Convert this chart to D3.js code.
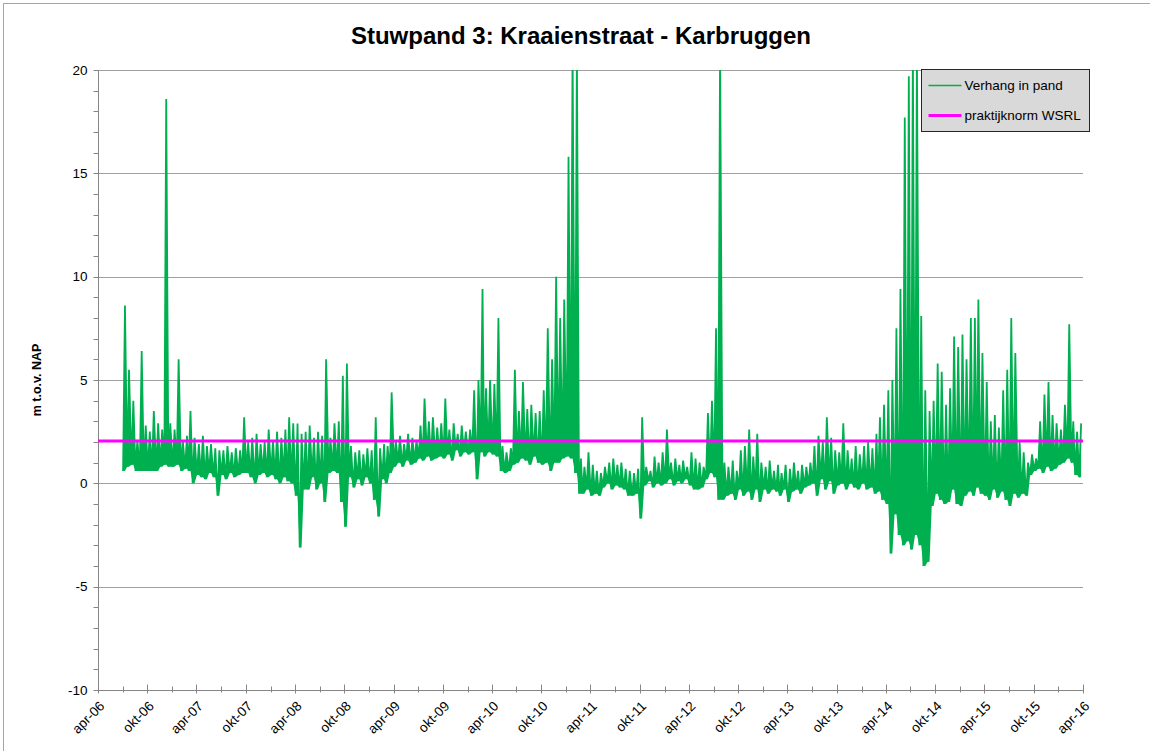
<!DOCTYPE html>
<html>
<head>
<meta charset="utf-8">
<script src="https://cdn.jsdelivr.net/npm/d3@7"></script>
<style>
  body { margin: 0; background: #fff; }
  svg { display: block; font-family: "Liberation Sans", Arial, sans-serif; }
</style>
</head>
<body>
<div id="graphicContainer"></div>
<script>
// verhang per halve maand: hoogste en laagste waarde (m)
var hi2006 = [8.6, 5.5, 4.0, 2.1, 6.4, 2.8, 2.5, 3.5, 2.9, 2.6, 18.6, 2.9]
var lo2006 = [0.6, 0.8, 0.9, 0.6, 0.6, 0.6, 0.6, 0.6, 0.6, 0.8, 0.9, 0.8]
var hi2007 = [2.6, 6.0, 2.0, 2.3, 3.5, 2.2, 1.9, 2.3, 1.8, 1.9, 1.7, 1.6, 1.6, 1.8, 1.5, 1.7, 1.6, 3.2, 2.0, 2.2, 2.4, 1.9, 2.0, 2.6]
var lo2007 = [0.8, 0.9, 0.6, 0.7, 0.6, 0.0, 0.4, 0.3, 0.2, 0.5, 0.3, -0.6, 0.4, 0.2, 0.5, 0.3, 0.4, 0.5, 0.5, 0.3, 0.0, 0.4, 0.5, 0.3]
var hi2008 = [2.1, 2.5, 2.2, 2.6, 3.2, 2.9, 2.9, 2.4, 2.5, 2.8, 2.2, 2.5, 2.3, 6.0, 2.2, 2.9, 3.0, 5.2, 5.8, 1.8, 1.5, 1.6, 1.4, 1.7]
var lo2008 = [0.4, 0.2, 0.0, 0.3, 0.1, 0.0, -0.6, -3.1, -0.3, -0.3, 0.3, -0.3, 0.0, -0.9, 0.5, 0.6, 0.5, -0.9, -2.1, 0.3, -0.2, 0.2, -0.1, 0.3]
var hi2009 = [1.6, 3.2, 1.7, 1.9, 1.8, 4.4, 2.0, 2.3, 1.9, 2.4, 2.2, 2.1, 2.8, 4.1, 3.0, 3.2, 2.7, 2.9, 4.1, 2.6, 2.9, 2.4, 2.8, 2.5]
var lo2009 = [0.0, -0.8, -1.6, 0.2, 0.0, 0.5, 0.8, 1.0, 0.8, 1.1, 0.9, 1.0, 1.2, 1.1, 1.3, 1.1, 1.2, 1.3, 1.2, 1.4, 1.1, 1.6, 1.3, 1.5]
var hi2010 = [2.6, 4.5, 5.0, 9.4, 4.6, 5.0, 4.8, 8.0, 1.8, 1.5, 1.7, 5.5, 3.5, 4.9, 3.6, 3.8, 3.4, 3.5, 4.5, 7.5, 6.0, 10.0, 8.0, 8.9]
var lo2010 = [1.4, 1.5, 0.2, 1.5, 1.3, 1.5, 1.4, 1.3, 0.6, 0.5, 0.6, 0.9, 1.0, 1.2, 1.1, 0.9, 1.3, 1.0, 0.9, 1.0, 0.6, 1.0, 1.0, 1.2]
var hi2011 = [15.8, 21, 21, 1.2, 0.8, 1.5, 0.9, 0.6, 0.5, 0.8, 1.0, 1.2, 0.9, 1.0, 0.7, 0.6, 0.5, 0.7, 3.2, 0.8, 0.6, 1.3, 1.0, 1.5]
var lo2011 = [1.3, 1.2, 0.5, -0.5, -0.5, -0.3, -0.6, -0.5, -0.6, -0.2, 0.0, -0.3, -0.1, -0.2, -0.3, -0.6, -0.6, -0.5, -1.7, -0.1, 0.1, -0.2, 0.0, -0.1]
var hi2012 = [2.6, 1.0, 1.2, 0.9, 1.1, 0.8, 1.5, 1.2, 1.0, 0.8, 3.4, 4.0, 7.5, 21, 1.0, 0.8, 1.1, 0.6, 1.6, 1.8, 2.6, 1.3, 2.4, 1.0]
var lo2012 = [0.0, 0.2, -0.1, 0.1, 0.0, 0.2, -0.1, -0.3, -0.3, -0.2, 0.2, 0.5, 0.3, -0.8, -0.8, -0.6, -0.5, -0.8, -0.3, -0.6, -0.4, -0.8, -0.3, -0.9]
var hi2013 = [0.8, 1.1, 0.6, 0.9, 0.5, 0.9, 0.7, 1.0, 0.6, 0.9, 0.8, 1.0, 1.8, 2.3, 2.0, 3.2, 2.2, 1.6, 1.5, 2.9, 1.6, 1.2, 1.8, 1.4]
var lo2013 = [-0.3, -0.5, -0.3, -0.4, -0.6, -0.3, -0.9, -0.4, -0.3, -0.5, -0.2, -0.1, 0.0, -0.6, 0.2, -0.3, 0.1, -0.5, -0.1, 0.0, -0.3, 0.0, -0.2, -0.3]
var hi2014 = [1.8, 2.0, 1.7, 2.4, 3.2, 3.8, 4.5, 5.0, 7.5, 9.4, 17.7, 19.7, 21, 21, 8.1, 4.5, 3.5, 4.0, 5.8, 5.4, 3.8, 4.6, 7.1, 6.6]
var lo2014 = [0.0, -0.3, -0.2, -0.5, -0.4, -0.8, -1.0, -3.4, -1.5, -2.5, -3.0, -2.8, -3.2, -2.5, -3.0, -4.0, -3.8, -1.1, -0.5, -0.8, -1.0, -0.9, -0.3, -1.0]
var hi2015 = [7.2, 6.0, 8.0, 8.0, 8.9, 6.3, 4.9, 3.0, 3.3, 2.7, 4.5, 5.5, 8.0, 6.3, 2.0, 1.5, 1.0, 1.4, 1.2, 3.0, 4.3, 4.9, 3.3, 2.9]
var lo2015 = [-1.1, -0.6, -0.4, -0.6, -0.2, -0.5, -0.6, -0.8, -0.3, -0.7, -0.4, -0.8, -1.1, -0.5, -0.7, -0.5, -0.6, 0.4, 0.6, 0.7, 0.5, 0.8, 0.6, 0.7]
var hi2016 = [2.6, 3.8, 7.7, 3.0, 2.5, 2.9]
var lo2016 = [0.9, 1.0, 1.2, 1.0, 0.4, 0.3]

// jaar, eerste maand (0 = jan), reeksen
var seriesYears = [
	[2006, 6, hi2006, lo2006],
	[2007, 0, hi2007, lo2007],
	[2008, 0, hi2008, lo2008],
	[2009, 0, hi2009, lo2009],
	[2010, 0, hi2010, lo2010],
	[2011, 0, hi2011, lo2011],
	[2012, 0, hi2012, lo2012],
	[2013, 0, hi2013, lo2013],
	[2014, 0, hi2014, lo2014],
	[2015, 0, hi2015, lo2015],
	[2016, 0, hi2016, lo2016]
]

var normWSRL = 2.05

var xTickLabels = ["apr-06", "okt-06", "apr-07", "okt-07", "apr-08", "okt-08", "apr-09", "okt-09", "apr-10", "okt-10",
	"apr-11", "okt-11", "apr-12", "okt-12", "apr-13", "okt-13", "apr-14", "okt-14", "apr-15", "okt-15", "apr-16"]
var yTicks = [20, 15, 10, 5, 0, -5, -10]

var width = 1150, height = 751
var margin = {top: 70, right: 67, bottom: 61, left: 98}
var green = "#00b050"

var svg = d3.select("#graphicContainer").append("svg")
	.attr("width", width)
	.attr("height", height)

svg.append("rect")
	.attr("x", 3.5).attr("y", 3.5)
	.attr("width", width + 20).attr("height", height + 20)
	.attr("fill", "#fff")
	.attr("stroke", "#a6a6a6")

var x = d3.scaleTime()
	.domain([new Date(2006, 3, 1), new Date(2016, 3, 1)])
	.range([margin.left, width - margin.right])

var y = d3.scaleLinear()
	.domain([-10, 20])
	.range([height - margin.bottom, margin.top])

var monthIdx = {apr: 3, okt: 9}
function labelDate(s) {
	var p = s.split("-")
	return new Date(2000 + +p[1], monthIdx[p[0]], 1)
}

// gridlines
svg.append("g")
	.selectAll("line")
	.data(yTicks.filter(d => d > -10))
	.join("line")
		.attr("x1", margin.left).attr("x2", width - margin.right)
		.attr("y1", d => Math.round(y(d)) + 0.5).attr("y2", d => Math.round(y(d)) + 0.5)
		.attr("stroke", "#a0a0a0")
		.attr("stroke-width", 1.2)

// y axis
var yAxis = svg.append("g")
	.attr("transform", `translate(${margin.left + 0.5},0)`)

yAxis.append("line")
	.attr("y1", y(20)).attr("y2", y(-10))
	.attr("stroke", "#868686")

yAxis.selectAll(".minor")
	.data(d3.range(-10, 21, 1))
	.join("line")
		.attr("class", "minor")
		.attr("x1", -5).attr("x2", 0)
		.attr("y1", d => Math.round(y(d)) + 0.5).attr("y2", d => Math.round(y(d)) + 0.5)
		.attr("stroke", "#868686")

yAxis.selectAll("text")
	.data(yTicks)
	.join("text")
		.attr("x", -11)
		.attr("y", d => y(d))
		.attr("dy", "0.35em")
		.attr("text-anchor", "end")
		.attr("font-size", 13.5)
		.attr("fill", "#000")
		.text(d => d)

svg.append("text")
	.attr("transform", `translate(41,${(y(20) + y(-10)) / 2}) rotate(-90)`)
	.attr("text-anchor", "middle")
	.attr("font-size", 12.5)
	.attr("font-weight", "bold")
	.text("m t.o.v. NAP")

// x axis
var xAxis = svg.append("g")
	.attr("transform", `translate(0,${Math.round(y(-10)) + 0.5})`)

xAxis.append("line")
	.attr("x1", margin.left).attr("x2", width - margin.right)
	.attr("stroke", "#868686")
	.attr("stroke-width", 1.2)

var minorX = d3.timeMonth.every(3).range(new Date(2006, 3, 1), new Date(2016, 3, 2))
xAxis.selectAll(".minor")
	.data(minorX)
	.join("line")
		.attr("class", "minor")
		.attr("x1", d => Math.round(x(d)) + 0.5).attr("x2", d => Math.round(x(d)) + 0.5)
		.attr("y1", -4).attr("y2", 2)
		.attr("stroke", "#868686")

xAxis.selectAll(".major")
	.data(xTickLabels)
	.join("line")
		.attr("class", "major")
		.attr("x1", d => Math.round(x(labelDate(d))) + 0.5).attr("x2", d => Math.round(x(labelDate(d))) + 0.5)
		.attr("y1", -6).attr("y2", 3)
		.attr("stroke", "#868686")

xAxis.selectAll("text")
	.data(xTickLabels)
	.join("text")
		.attr("transform", d => `translate(${x(labelDate(d)) + 4},13) rotate(-45)`)
		.attr("text-anchor", "end")
		.attr("dy", "0.35em")
		.attr("font-size", 13.5)
		.text(d => d)

// reeks opbouwen: per halve maand eerst het dal, dan de piek
var points = []
var teeth = []
seriesYears.forEach(s => {
	var year = s[0], m0 = s[1], hi = s[2], lo = s[3]
	hi.forEach((h, i) => {
		var m = m0 + Math.floor(i / 2)
		var day = i % 2 ? 16 : 1
		var tLo = new Date(year, m, day + 2), tHi = new Date(year, m, day + 9)
		points.push({date: tLo, value: lo[i]})
		points.push({date: tHi, value: h})
		teeth.push({date: tLo, y0: lo[i], y1: lo[i]})
		teeth.push({date: tHi, y0: lo[i], y1: h})
	})
})

svg.append("clipPath")
	.attr("id", "plotClip")
	.append("rect")
		.attr("x", margin.left).attr("y", margin.top)
		.attr("width", width - margin.left - margin.right)
		.attr("height", height - margin.top - margin.bottom)

var plot = svg.append("g").attr("clip-path", "url(#plotClip)")

var area = d3.area()
	.x(d => x(d.date))
	.y0(d => y(d.y0))
	.y1(d => y(d.y1))

var line = d3.line()
	.x(d => x(d.date))
	.y(d => y(d.value))

plot.append("path")
	.datum(teeth)
	.attr("fill", green)
	.attr("d", area)

plot.append("path")
	.datum(points)
	.attr("fill", "none")
	.attr("stroke", green)
	.attr("stroke-width", 1.8)
	.attr("stroke-linejoin", "miter")
	.attr("d", line)

svg.append("line")
	.attr("x1", margin.left).attr("x2", width - margin.right)
	.attr("y1", y(normWSRL)).attr("y2", y(normWSRL))
	.attr("stroke", "#ff00ff")
	.attr("stroke-width", 3)

// titel
svg.append("text")
	.attr("x", 581)
	.attr("y", 44)
	.attr("text-anchor", "middle")
	.attr("font-size", 24)
	.attr("font-weight", "bold")
	.text("Stuwpand 3: Kraaienstraat - Karbruggen")

// legenda
var legend = svg.append("g").attr("transform", "translate(921.5,69.5)")
legend.append("rect")
	.attr("width", 168).attr("height", 62)
	.attr("fill", "#d9d9d9")
	.attr("stroke", "#262626")

var legendItems = [
	{label: "Verhang in pand", color: green, w: 1.6, y: 16},
	{label: "praktijknorm WSRL", color: "#ff00ff", w: 3, y: 46}
]
legendItems.forEach(d => {
	legend.append("line")
		.attr("x1", 7).attr("x2", 40)
		.attr("y1", d.y).attr("y2", d.y)
		.attr("stroke", d.color)
		.attr("stroke-width", d.w)
	legend.append("text")
		.attr("x", 43).attr("y", d.y)
		.attr("dy", "0.35em")
		.attr("font-size", 13.5)
		.text(d.label)
})
</script>
</body>
</html>
